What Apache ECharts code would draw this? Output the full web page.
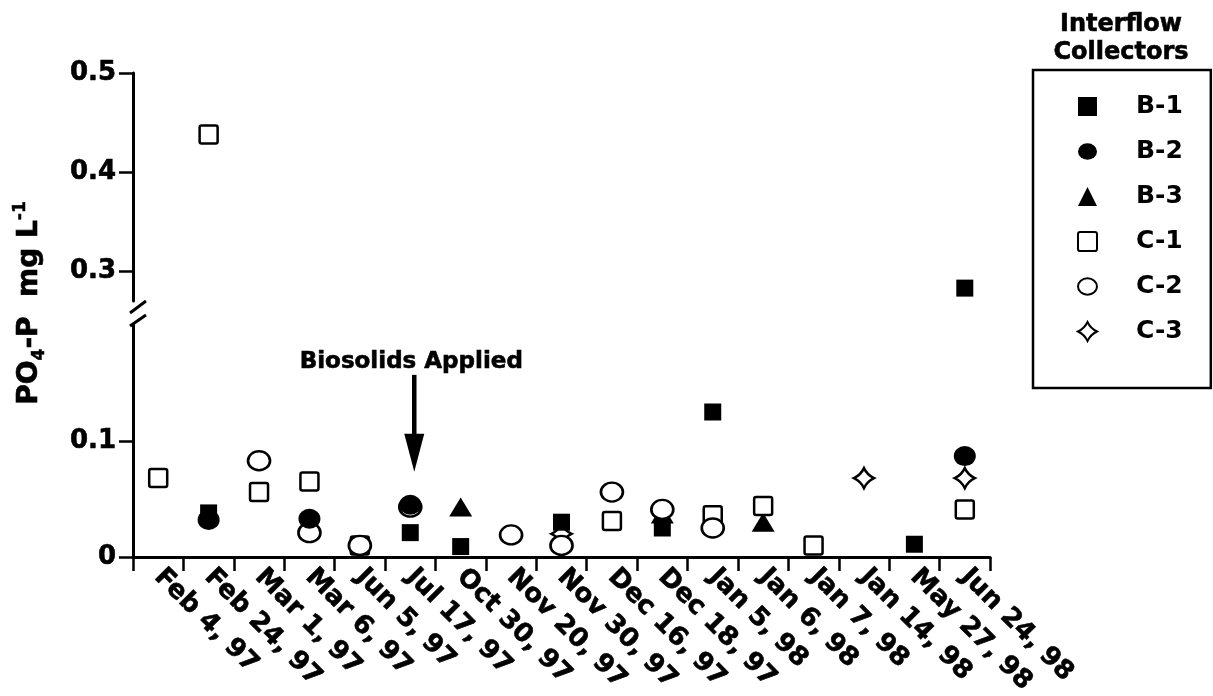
<!DOCTYPE html>
<html>
<head>
<meta charset="utf-8">
<script src="https://cdn.jsdelivr.net/npm/echarts@6/dist/echarts.min.js"></script>
<style>html,body{margin:0;padding:0;background:#fff}#c{width:1213px;height:696px}</style>
</head>
<body>
<div id="c"></div>
<script>
// ---------------- data ----------------
const categories = ['Feb 4, 97','Feb 24, 97','Mar 1, 97','Mar 6, 97','Jun 5, 97','Jul 17, 97','Oct 30, 97',
  'Nov 20, 97','Nov 30, 97','Dec 16, 97','Dec 18, 97','Jan 5, 98','Jan 6, 98','Jan 7, 98','Jan 14, 98','May 27, 98','Jun 24, 98'];
const B1 = [null, 0.038, null, null, null, 0.021, 0.009, null, 0.030, null, 0.025, 0.125, null, null, null, 0.011, 0.283];
const B2 = [null, 0.032, null, 0.033, null, 0.045, null, null, null, null, null, null, null, null, null, null, 0.087];
const B3 = [null, null, null, null, null, null, 0.043, null, null, null, 0.037, null, 0.030, null, null, null, null];
const C1 = [0.068, 0.438, 0.056, 0.065, 0.010, null, null, null, null, 0.031, null, 0.036, 0.044, 0.010, null, null, 0.041];
const C2 = [null, null, 0.083, 0.021, 0.010, 0.043, null, 0.019, 0.010, 0.056, 0.041, 0.025, null, null, null, null, null];
const C3 = [null, null, null, null, null, null, null, null, 0.020, null, null, null, null, null, 0.068, null, 0.068];
const seriesNames = ['B-1','B-2','B-3','C-1','C-2','C-3'];
const lowerTicks = [0, 0.1];
const upperTicks = [0.3, 0.4, 0.5];
const lowerRange = [0, 0.2];
const upperRange = [0.27, 0.5];
const annotation = 'Biosolids Applied';
const annotationCategory = 5;

// ---------------- style / layout ----------------
const FONT = 'DejaVu Sans';
const TB = {textBorderColor: '#000', textBorderWidth: 0.6};
const GL = 133, GW = 857;
const UP_TOP = 73, UP_H = 228;
const LOW_TOP = 325, LOW_H = 232;

const ELLIPSE = 'path://M-11,0A11,9.5 0 1,0 11,0A11,9.5 0 1,0 -11,0Z';
const STAR = 'path://M0,-10Q3.2,-3.2 10,0Q3.2,3.2 0,10Q-3.2,3.2 -10,0Q-3.2,-3.2 0,-10Z';
const RSQ = 'path://M2,0H16Q18,0 18,2V16Q18,18 16,18H2Q0,18 0,16V2Q0,0 2,0Z';
const styles = {
  'B-1': {symbol: 'rect', size: 17, fill: '#000'},
  'B-2': {symbol: ELLIPSE, size: [22, 20], fill: '#000', legendIcon: 'circle'},
  'B-3': {symbol: 'triangle', size: [23, 19], fill: '#000'},
  'C-1': {symbol: RSQ, size: 18, fill: '#fff'},
  'C-2': {symbol: ELLIPSE, size: [22, 19], fill: '#fff'},
  'C-3': {symbol: STAR, size: 20, fill: '#fff'}
};
const dataByName = {'B-1': B1, 'B-2': B2, 'B-3': B3, 'C-1': C1, 'C-2': C2, 'C-3': C3};
const drawOrder = ['C-3', 'B-3', 'C-1', 'C-2', 'B-1', 'B-2'];

const series = [];
drawOrder.forEach(function (name) {
  const st = styles[name];
  const vals = dataByName[name];
  [0, 1].forEach(function (g) {
    const d = [];
    vals.forEach(function (v, i) {
      if (v == null) return;
      const inLower = v <= lowerRange[1];
      if ((g === 0 && inLower) || (g === 1 && !inLower)) d.push([i, v]);
    });
    const s = {
      name: name, type: 'scatter', xAxisIndex: g, yAxisIndex: g,
      symbol: st.symbol, symbolSize: st.size,
      itemStyle: {color: st.fill, borderColor: '#000', borderWidth: st.fill === '#000' ? 0 : 2.5, opacity: 1},
      emphasis: {disabled: true},
      data: d
    };
    if (st.legendIcon) s.legendIcon = st.legendIcon;
    series.push(s);
  });
});

const yLabel = Object.assign({fontFamily: FONT, fontWeight: 'bold', fontSize: 26, color: '#000', margin: 17,
  formatter: function (v) { return v === 0 ? '0' : Number(v).toFixed(1); }}, TB);

const option = {
  animation: false,
  backgroundColor: '#fff',
  grid: [
    {left: GL, top: LOW_TOP, width: GW, height: LOW_H, outerBoundsMode: 'none', containLabel: false},
    {left: GL, top: UP_TOP, width: GW, height: UP_H, outerBoundsMode: 'none', containLabel: false}
  ],
  xAxis: [
    {type: 'category', gridIndex: 0, data: categories, boundaryGap: true,
      axisLine: {show: true, onZero: false, lineStyle: {color: '#000', width: 3}},
      axisTick: {show: true, interval: 0, alignWithLabel: false, length: 14, inside: false, lineStyle: {color: '#000', width: 2.5}},
      axisLabel: Object.assign({interval: 0, rotate: -45, margin: 16, fontFamily: FONT, fontWeight: 'bold', fontSize: 26, color: '#000'}, TB),
      splitLine: {show: false}},
    {type: 'category', gridIndex: 1, data: categories, boundaryGap: true, show: false}
  ],
  yAxis: [
    {type: 'value', gridIndex: 0, min: lowerRange[0], max: lowerRange[1],
      axisLine: {show: true, lineStyle: {color: '#000', width: 3}},
      axisTick: {show: true, length: 14, customValues: lowerTicks, lineStyle: {color: '#000', width: 2.5}},
      axisLabel: Object.assign({customValues: lowerTicks}, yLabel),
      splitLine: {show: false}},
    {type: 'value', gridIndex: 1, min: upperRange[0], max: upperRange[1],
      axisLine: {show: true, lineStyle: {color: '#000', width: 3}},
      axisTick: {show: true, length: 14, customValues: upperTicks, lineStyle: {color: '#000', width: 2.5}},
      axisLabel: Object.assign({customValues: upperTicks}, yLabel),
      splitLine: {show: false}}
  ],
  legend: {
    orient: 'vertical', left: 1033, top: 70, padding: [24, 28, 44, 44],
    itemWidth: 19, itemHeight: 19, itemGap: 20,
    borderColor: '#000', borderWidth: 2.5, backgroundColor: '#fff', borderRadius: 0,
    selectedMode: false, data: seriesNames,
    textStyle: {fontFamily: FONT, fontWeight: 'bold', fontSize: 25, color: '#000', padding: [0, 0, 0, 34]}
  },
  series: series
};

const chart = echarts.init(document.getElementById('c'), null, {renderer: 'canvas'});
chart.setOption(option);

// annotations (arrow, break marks, titles)
const ax = chart.convertToPixel({gridIndex: 0}, [annotationCategory, 0])[0] + 4;
const tipY = chart.convertToPixel({gridIndex: 0}, [annotationCategory, 0.0735])[1];
const topY = chart.convertToPixel({gridIndex: 0}, [annotationCategory, 0.157])[1];
const txtY = chart.convertToPixel({gridIndex: 0}, [annotationCategory, 0.168])[1];
const upBottom = UP_TOP + UP_H;
const txtBorder = {stroke: '#000', lineWidth: 0.6};

chart.setOption({
  graphic: [
    {type: 'line', shape: {x1: ax, y1: topY, x2: ax, y2: tipY - 32}, style: {stroke: '#000', lineWidth: 4.5}},
    {type: 'polygon', shape: {points: [[ax - 10, tipY - 38], [ax + 10, tipY - 38], [ax, tipY]]}, style: {fill: '#000'}},
    {type: 'text', x: ax - 3, y: txtY, style: Object.assign({text: annotation, fontFamily: FONT, fontWeight: 'bold', fontSize: 23, fill: '#000', align: 'center', verticalAlign: 'middle'}, txtBorder)},
    {type: 'line', shape: {x1: GL - 3, y1: upBottom + 12, x2: GL + 13, y2: upBottom}, style: {stroke: '#000', lineWidth: 3}},
    {type: 'line', shape: {x1: GL - 3, y1: LOW_TOP + 1, x2: GL + 13, y2: LOW_TOP - 10}, style: {stroke: '#000', lineWidth: 3}},
    {type: 'text', x: 1121, y: 39, style: Object.assign({text: 'Interflow\nCollectors', fontFamily: FONT, fontWeight: 'bold', fontSize: 24, lineHeight: 28, fill: '#000', align: 'center', verticalAlign: 'middle'}, txtBorder)},
    {type: 'text', x: 30, y: 303, rotation: Math.PI / 2,
      style: {text: '{a|PO}{s|4}{a|-P  mg L}{p|-1}', align: 'center', verticalAlign: 'middle', fill: '#000',
        fontFamily: FONT, fontWeight: 'bold', fontSize: 28,
        rich: {
          a: {fontFamily: FONT, fontWeight: 'bold', fontSize: 28, lineHeight: 36, fill: '#000', stroke: '#000', lineWidth: 0.6},
          s: {fontFamily: FONT, fontWeight: 'bold', fontSize: 17, lineHeight: 19, verticalAlign: 'bottom', fill: '#000', stroke: '#000', lineWidth: 0.5},
          p: {fontFamily: FONT, fontWeight: 'bold', fontSize: 17, lineHeight: 19, verticalAlign: 'top', fill: '#000', stroke: '#000', lineWidth: 0.5}
        }}}
  ]
});
</script>
</body>
</html>
